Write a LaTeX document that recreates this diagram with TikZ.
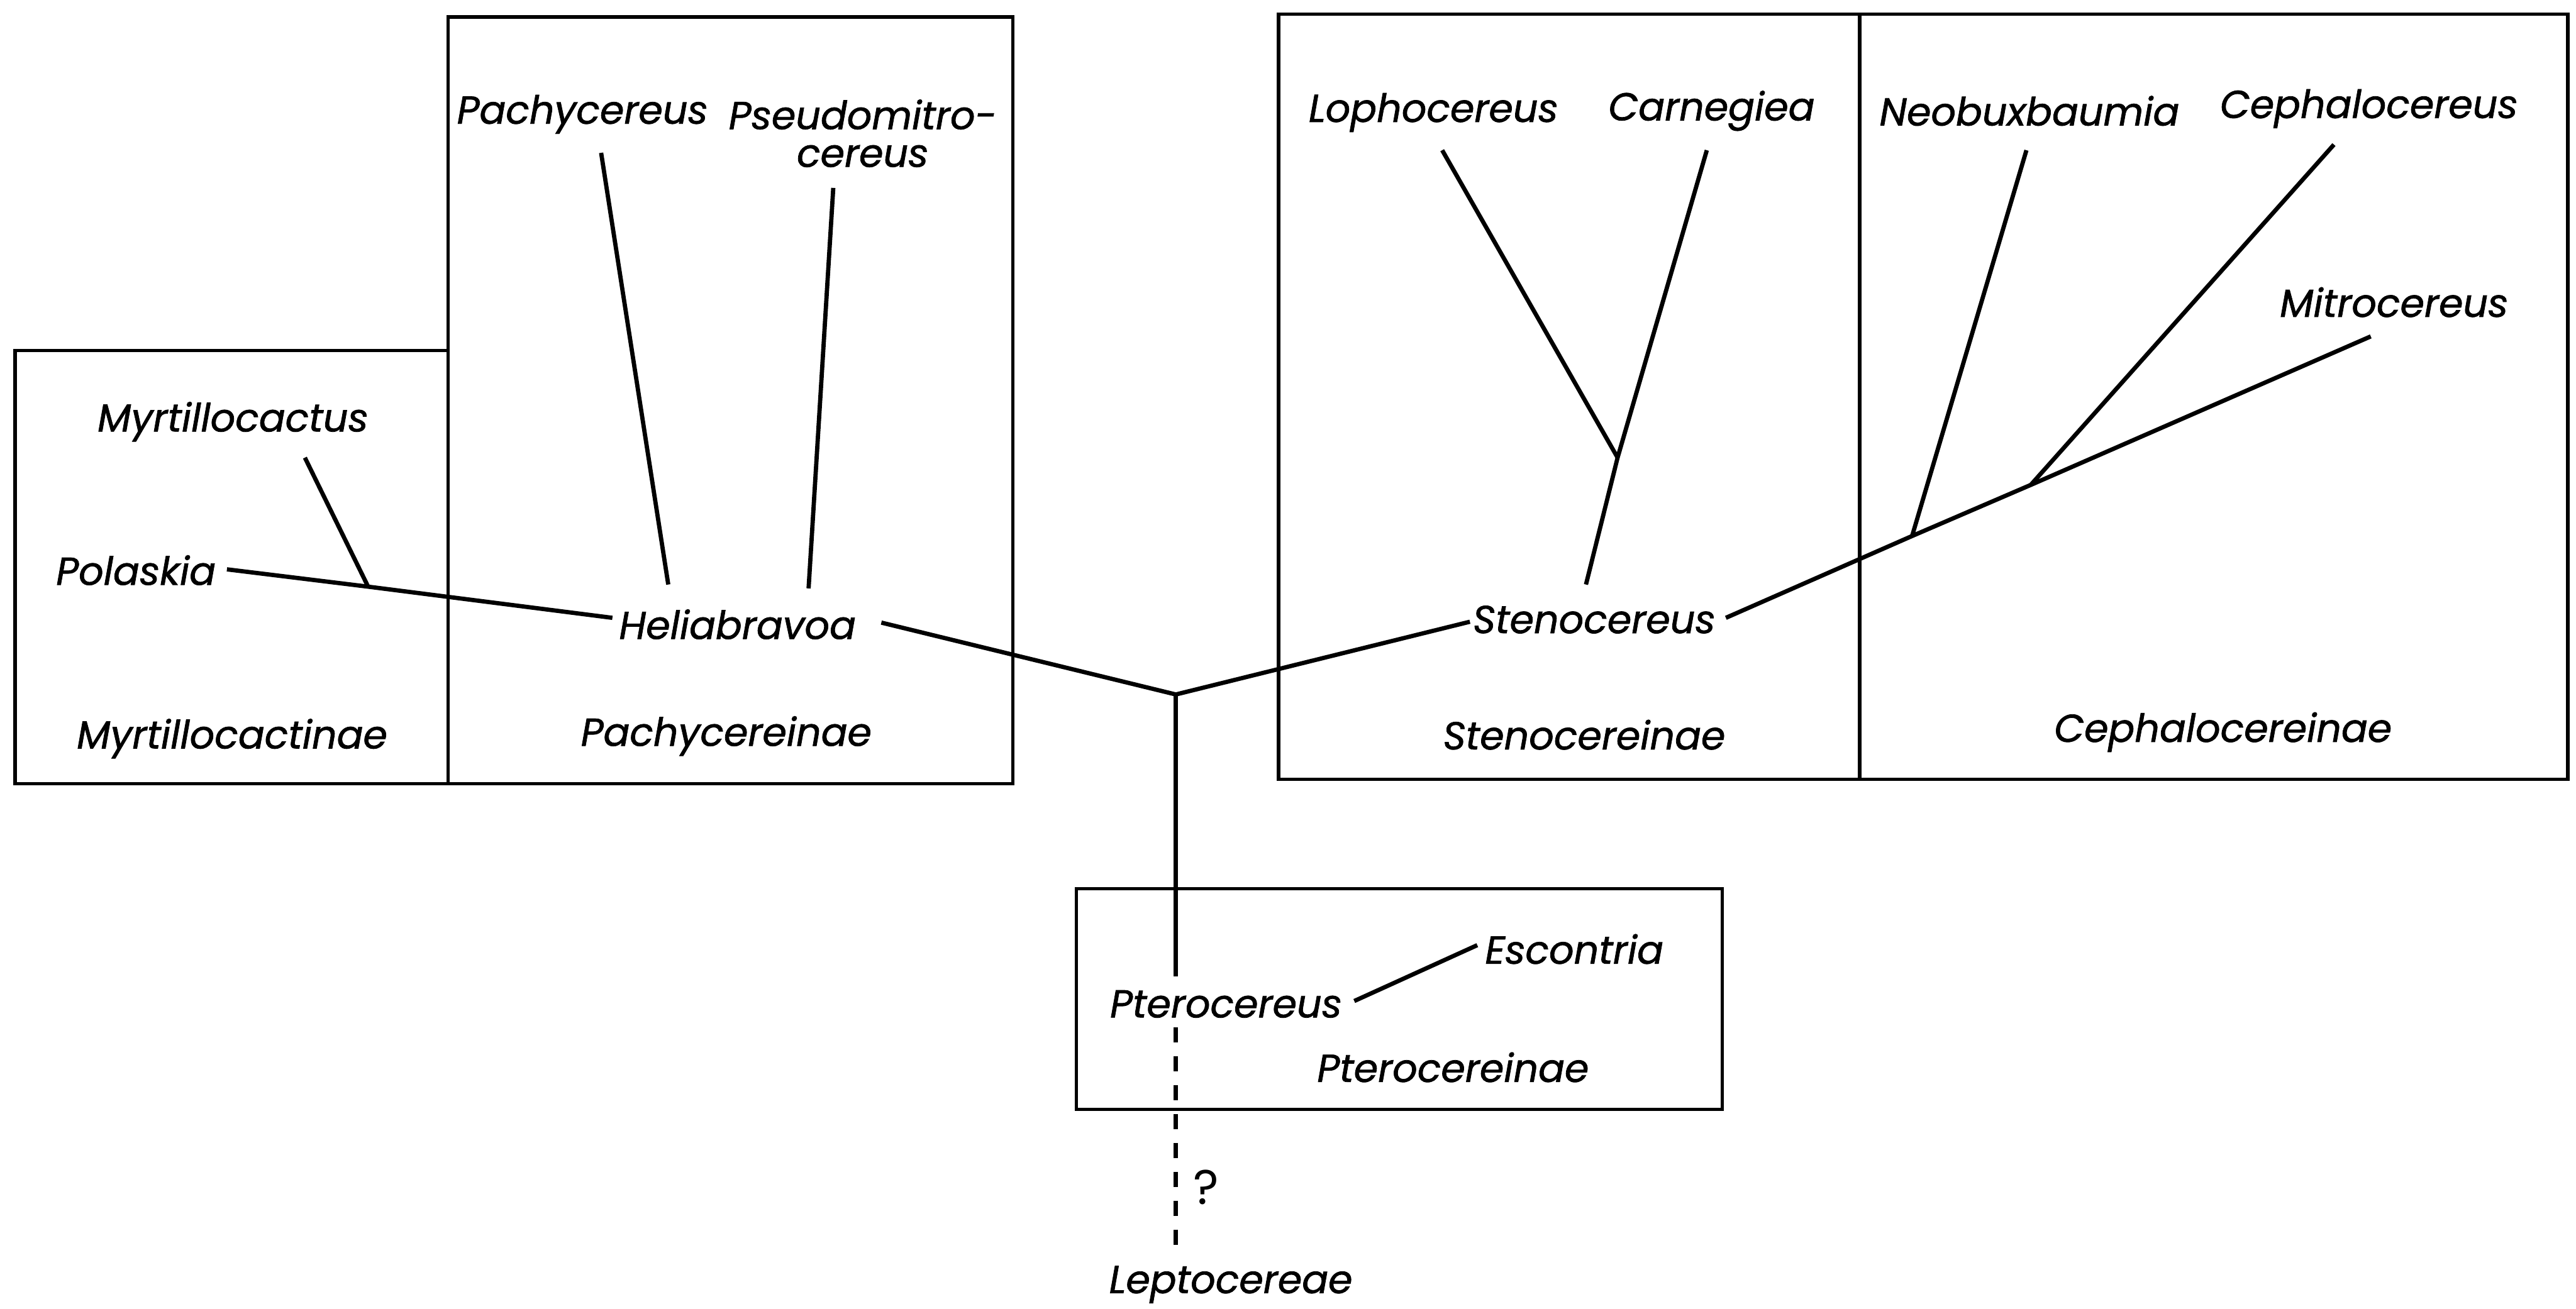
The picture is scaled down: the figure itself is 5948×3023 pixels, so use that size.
\documentclass[tikz,border=0pt]{standalone}
\usepackage{fontspec}
\setmainfont{Poppins}[ItalicFeatures={FakeBold=1.2}]
\usetikzlibrary{calc}

\begin{document}
\begin{tikzpicture}[x=0.005cm, y=-0.005cm,
    taxon/.style={font=\itshape\fontsize{12.8}{12.4}\selectfont, inner sep=0pt, align=center},
    branch/.style={line width=1.4pt},
    group/.style={line width=1.1pt}]
    \useasboundingbox (0,0) rectangle (5948,3023);
    \draw[group] (35,810) rectangle (1035,1810);
    \draw[group] (1035,39) rectangle (2339,1810);
    \draw[group] (2952,33) rectangle (4294,1800);
    \draw[group] (4294,33) rectangle (5929,1800);
    \draw[group] (2485,2053) rectangle (3977,2562);
    \node[taxon] at (538,974) (Myrt) {Myrtillocactus};
    \node[taxon] at (314,1317) (Polaskia) {Polaskia};
    \node[taxon] at (1703,1442) (Helia) {Heliabravoa};
    \node[taxon] at (1345,264) (Pachy) {Pachycereus};
    \node[taxon] at (1992,308) (Pseudo) {Pseudomitro-\\cereus};
    \node[taxon] at (536,1706) (MyrtSub) {Myrtillocactinae};
    \node[taxon] at (1677,1700) (PachySub) {Pachycereinae};
    \node[taxon] at (3310,260) (Lopho) {Lophocereus};
    \node[taxon] at (3952,256) (Carne) {Carnegiea};
    \node[taxon] at (4686,256) (Neo) {Neobuxbaumia};
    \node[taxon] at (5470,251) (Ceph) {Cephalocereus};
    \node[taxon] at (5528,698) (Mitro) {Mitrocereus};
    \node[taxon] at (3681,1431) (Steno) {Stenocereus};
    \node[taxon] at (3658,1697) (StenoSub) {Stenocereinae};
    \node[taxon] at (5133,1691) (CephSub) {Cephalocereinae};
    \node[taxon] at (2831,2319) (Ptero) {Pterocereus};
    \node[taxon] at (3635,2192) (Escon) {Escontria};
    \node[taxon] at (3355,2465) (PteroSub) {Pterocereinae};
    \node[taxon] at (2842,2967) (Lepto) {Leptocereae};
    \node[taxon, font=\upshape\fontsize{16}{16}\selectfont] at (2785,2742) (quest) {?};
    \coordinate (root) at (2715,1604);
    \coordinate (myrtfork) at (850,1355);
    \coordinate (stenofork) at (3735,1057);
    \coordinate (neofork) at (4415,1238);
    \coordinate (cephfork) at (4689,1120);
    \draw[branch] ($(Polaskia)+(210,-2)$) -- (myrtfork) -- ($(Helia)+(-289,-15)$);
    \draw[branch] ($(Myrt)+(166,83)$) -- (myrtfork);
    \draw[branch] ($(Pachy)+(43,89)$) -- ($(Helia)+(-160,-92)$);
    \draw[branch] ($(Pseudo)+(-68,126)$) -- ($(Helia)+(164,-83)$);
    \draw[branch] ($(Helia)+(332,-4)$) -- (root) -- ($(Steno)+(-287,5)$);
    \draw[branch] (root) -- ($(Ptero)+(-116,-64)$);
    \draw[branch, dash pattern=on 5pt off 4.5pt] ($(Ptero)+(-116,54)$) -- ($(Lepto)+(-127,-67)$);
    \draw[branch] ($(Ptero)+(296,-7)$) -- ($(Escon)+(-224,-9)$);
    \draw[branch] ($(Lopho)+(20,87)$) -- (stenofork);
    \draw[branch] ($(Carne)+(-11,91)$) -- (stenofork) -- ($(Steno)+(-19,-81)$);
    \draw[branch] ($(Steno)+(304,-4)$) -- (neofork) -- (cephfork) -- ($(Mitro)+(-54,79)$);
    \draw[branch] ($(Neo)+(-7,91)$) -- (neofork);
    \draw[branch] ($(Ceph)+(-81,83)$) -- (cephfork);
\end{tikzpicture}
\end{document}
